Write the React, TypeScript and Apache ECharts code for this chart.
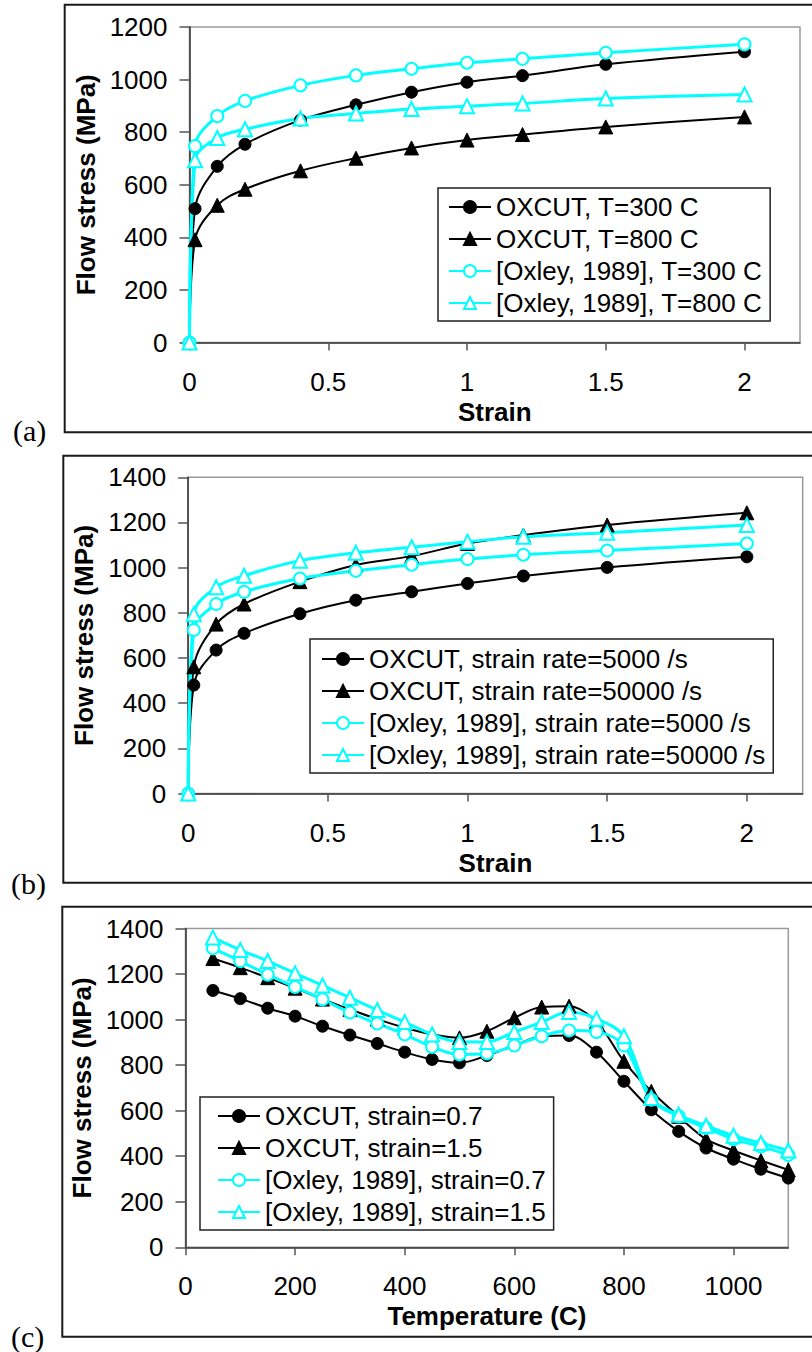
import React, { useEffect, useRef } from "react";
import * as echarts from "echarts";

// ---------- DATA ----------
const strainPts = [0, 0.02, 0.1, 0.2, 0.4, 0.6, 0.8, 1.0, 1.2, 1.5, 2.0];

const namesA = ["OXCUT, T=300 C", "OXCUT, T=800 C", "[Oxley, 1989], T=300 C", "[Oxley, 1989], T=800 C"];
const oxcutT300 = [0, 509, 670, 754, 846, 904, 952, 990, 1015, 1058, 1106];
const oxcutT800 = [0, 391, 522, 583, 653, 701, 740, 770, 791, 820, 858];
const oxleyT300 = [0, 747, 861, 919, 978, 1016, 1041, 1064, 1079, 1102, 1134];
const oxleyT800 = [0, 693, 778, 811, 852, 871, 888, 899, 909, 928, 943];

const namesB = [
  "OXCUT, strain rate=5000 /s",
  "OXCUT, strain rate=50000 /s",
  "[Oxley, 1989], strain rate=5000 /s",
  "[Oxley, 1989], strain rate=50000 /s",
];
const oxcutR5000 = [0, 480, 635, 709, 796, 856, 893, 930, 963, 1001, 1048];
const oxcutR50000 = [0, 561, 750, 839, 938, 1012, 1051, 1107, 1144, 1189, 1243];
const oxleyR5000 = [0, 724, 839, 893, 952, 986, 1013, 1038, 1057, 1076, 1107];
const oxleyR50000 = [0, 794, 913, 964, 1031, 1066, 1090, 1115, 1137, 1155, 1189];

const namesC = ["OXCUT, strain=0.7", "OXCUT, strain=1.5", "[Oxley, 1989], strain=0.7", "[Oxley, 1989], strain=1.5"];
const temps = [50, 100, 150, 200, 250, 300, 350, 400, 450, 500, 550, 600, 650, 700, 750, 800, 850, 900, 950, 1000, 1050, 1100];
const oxcutS07 = [1128, 1092, 1050, 1015, 971, 932, 895, 857, 825, 810, 842, 886, 927, 930, 857, 729, 604, 509, 436, 387, 343, 304];
const oxcutS15 = [1268, 1228, 1184, 1138, 1090, 1045, 1002, 964, 935, 920, 949, 1008, 1055, 1059, 990, 817, 685, 575, 475, 425, 381, 340];
const oxleyS07 = [1313, 1257, 1197, 1143, 1089, 1031, 983, 935, 880, 847, 851, 886, 927, 952, 946, 886, 648, 575, 524, 475, 443, 406];
const oxleyS15 = [1360, 1306, 1257, 1203, 1150, 1096, 1042, 989, 935, 902, 902, 945, 989, 1033, 1004, 927, 656, 582, 534, 490, 458, 425];

const strainTicks = [0, 0.5, 1, 1.5, 2];
const stressTicksA = [0, 200, 400, 600, 800, 1000, 1200];
const stressTicksBC = [0, 200, 400, 600, 800, 1000, 1200, 1400];
const tempTicks = [0, 200, 400, 600, 800, 1000];

// ---------- STYLE ----------
const SANS = "'Liberation Sans', Arial, sans-serif";
const SERIF = "'Liberation Serif', 'Times New Roman', serif";
const CYAN = "#00ffff";

type Kind = "oxcutCircle" | "oxcutTri" | "oxleyCircle" | "oxleyTri";
const kinds: Kind[] = ["oxcutCircle", "oxcutTri", "oxleyCircle", "oxleyTri"];

const plain = (v: number) => String(v);

function makeSeries(name: string, xs: number[], ys: number[], kind: Kind, idx: number) {
  const isOxley = kind === "oxleyCircle" || kind === "oxleyTri";
  const isTri = kind === "oxcutTri" || kind === "oxleyTri";
  return {
    type: "line",
    name,
    xAxisIndex: idx,
    yAxisIndex: idx,
    data: xs.map((x, i) => [x, ys[i]]),
    smooth: 0.35,
    symbol: isTri ? "triangle" : "circle",
    symbolSize: isTri ? 14 : 12,
    showAllSymbol: true,
    lineStyle: { color: isOxley ? CYAN : "#000", width: isOxley ? 3 : 2 },
    itemStyle: isOxley
      ? { color: "#ffffff", borderColor: CYAN, borderWidth: 2 }
      : { color: "#000", borderColor: "#000", borderWidth: 1 },
    emphasis: { disabled: true },
    clip: false,
  };
}

function makeXAxis(idx: number, max: number, interval: number, ticks: number[], name: string) {
  return {
    type: "value",
    gridIndex: idx,
    min: 0,
    max,
    interval,
    name,
    nameLocation: "middle",
    nameGap: 56,
    nameTextStyle: { fontFamily: SANS, fontSize: 26, fontWeight: "bold", color: "#000", lineHeight: 26 },
    axisLine: { show: true, onZero: false, lineStyle: { color: "#333", width: 1.5 } },
    axisTick: { show: true, length: 8, customValues: ticks, lineStyle: { color: "#555", width: 1.5 } },
    axisLabel: {
      customValues: ticks,
      margin: 26,
      formatter: plain,
      fontFamily: SANS,
      fontSize: 26,
      lineHeight: 26,
      color: "#000",
    },
    splitLine: { show: false },
  };
}

function makeYAxis(idx: number, max: number, ticks: number[]) {
  return {
    type: "value",
    gridIndex: idx,
    min: 0,
    max,
    interval: 200,
    name: "Flow stress (MPa)",
    nameLocation: "middle",
    nameGap: 82,
    nameRotate: 90,
    nameTextStyle: { fontFamily: SANS, fontSize: 26, fontWeight: "bold", color: "#000", lineHeight: 26 },
    axisLine: { show: true, onZero: false, lineStyle: { color: "#333", width: 1.5 } },
    axisTick: { show: true, length: 10, customValues: ticks, lineStyle: { color: "#555", width: 1.5 } },
    axisLabel: {
      customValues: ticks,
      margin: 22,
      formatter: plain,
      fontFamily: SANS,
      fontSize: 26,
      lineHeight: 26,
      color: "#000",
    },
    splitLine: { show: false },
  };
}

function makeLegend(names: string[], left: number, top: number, padding: number[]) {
  return {
    data: names,
    orient: "vertical",
    left,
    top,
    padding,
    itemGap: 6,
    itemWidth: 42,
    itemHeight: 15,
    backgroundColor: "#fff",
    borderColor: "#222",
    borderWidth: 1.5,
    selectedMode: false,
    textStyle: { fontFamily: SANS, fontSize: 26, color: "#000", lineHeight: 26 },
  };
}

export default function App() {
  const ref = useRef<HTMLDivElement | null>(null);

  useEffect(() => {
    if (!ref.current) return;
    const chart = echarts.init(ref.current, undefined, { renderer: "svg" });

    const series: any[] = [];
    const setA = [oxcutT300, oxcutT800, oxleyT300, oxleyT800];
    const setB = [oxcutR5000, oxcutR50000, oxleyR5000, oxleyR50000];
    const setC = [oxcutS07, oxcutS15, oxleyS07, oxleyS15];
    setA.forEach((ys, i) => series.push(makeSeries(namesA[i], strainPts, ys, kinds[i], 0)));
    setB.forEach((ys, i) => series.push(makeSeries(namesB[i], strainPts, ys, kinds[i], 1)));
    setC.forEach((ys, i) => series.push(makeSeries(namesC[i], temps, ys, kinds[i], 2)));

    const frame = (x: number, y: number, h: number) => ({
      type: "rect",
      shape: { x, y, width: 900, height: h },
      style: { fill: "none", stroke: "#1a1a1a", lineWidth: 2 },
      z: 0,
      silent: true,
    });
    const tag = (text: string, x: number, y: number) => ({
      type: "text",
      x,
      y,
      style: { text, fontFamily: SERIF, fontSize: 30, fill: "#000", verticalAlign: "middle", align: "left" },
      silent: true,
    });

    const gridStyle = { show: true, borderColor: "#9a9a9a", borderWidth: 1.5, backgroundColor: "transparent" };

    chart.setOption({
      animation: false,
      grid: [
        { left: 189.5, top: 27, width: 610.5, height: 315.5, ...gridStyle },
        { left: 188.2, top: 477.3, width: 614.5, height: 316.2, ...gridStyle },
        { left: 185.5, top: 928.5, width: 602.8, height: 318.8, ...gridStyle },
      ],
      xAxis: [
        makeXAxis(0, 2.2, 0.5, strainTicks, "Strain"),
        makeXAxis(1, 2.2, 0.5, strainTicks, "Strain"),
        makeXAxis(2, 1100, 200, tempTicks, "Temperature (C)"),
      ],
      yAxis: [makeYAxis(0, 1200, stressTicksA), makeYAxis(1, 1400, stressTicksBC), makeYAxis(2, 1400, stressTicksBC)],
      legend: [
        makeLegend(namesA, 438, 188, [6, 8, 5, 10]),
        makeLegend(namesB, 310, 639, [7, 8, 5, 11]),
        makeLegend(namesC, 200, 1097, [6, 8, 5, 17]),
      ],
      graphic: [
        frame(64.7, 4.7, 427.6),
        frame(63.3, 455.7, 427),
        frame(62.3, 906.7, 430),
        tag("(a)", 13, 430),
        tag("(b)", 11, 883),
        tag("(c)", 11, 1336),
      ],
      series,
    });

    return () => chart.dispose();
  }, []);

  return (
    <div
      ref={ref}
      style={{ position: "absolute", left: 0, top: 0, width: 812, height: 1352, background: "#fff" }}
    />
  );
}
